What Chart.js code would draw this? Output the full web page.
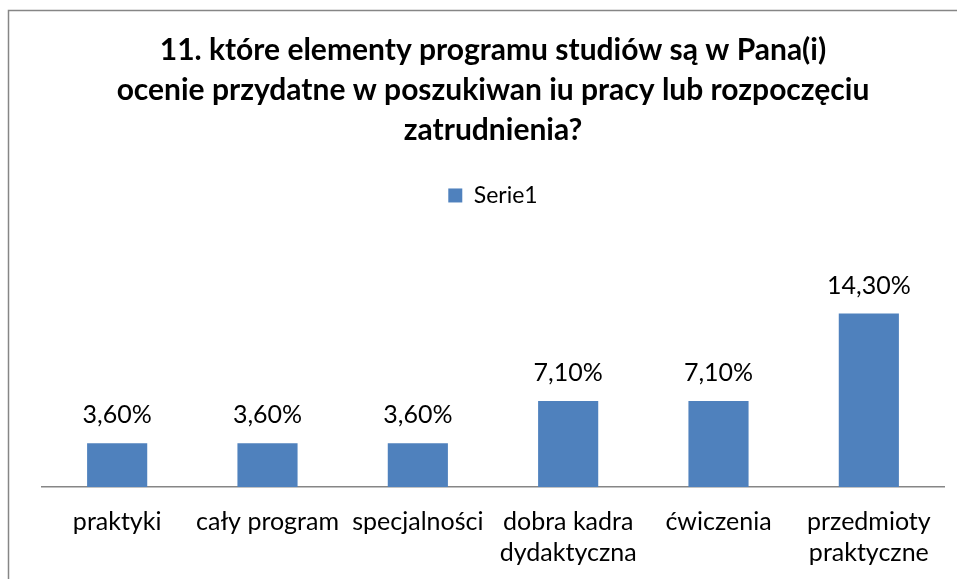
<!DOCTYPE html>
<html>
<head>
<meta charset="utf-8">
<script src="https://cdn.jsdelivr.net/npm/chart.js@4/dist/chart.umd.min.js"></script>
<style>
  html, body { margin: 0; padding: 0; background: #fff; }
  #wrap { width: 957px; height: 579px; position: relative; }
</style>
</head>
<body>
<div id="wrap"><canvas id="chart" width="957" height="579"></canvas></div>
<script>
// chart data
const titleLines = [
  '11. które elementy programu studiów są w Pana(i)',
  'ocenie przydatne w poszukiwan iu pracy lub rozpoczęciu',
  'zatrudnienia?'
];
const categories = [
  'praktyki',
  'cały program',
  'specjalności',
  ['dobra kadra', 'dydaktyczna'],
  'ćwiczenia',
  ['przedmioty', 'praktyczne']
];
const seriesName = 'Serie1';
const values = [3.6, 3.6, 3.6, 7.1, 7.1, 14.3];

const FONT = 'Lato, "Open Sans", sans-serif';

// value labels above bars, Polish decimal comma
const barLabels = {
  id: 'barLabels',
  afterDatasetsDraw(chart) {
    const ctx = chart.ctx;
    const meta = chart.getDatasetMeta(0);
    ctx.save();
    ctx.font = '25px ' + FONT;
    ctx.fillStyle = '#000';
    ctx.textAlign = 'center';
    ctx.textBaseline = 'middle';
    meta.data.forEach((bar, i) => {
      const txt = values[i].toFixed(2).replace('.', ',') + '%';
      ctx.fillText(txt, bar.x, bar.y - 28);
    });
    ctx.restore();
  }
};

// outer frame like the office chart border
const frame = {
  id: 'frame',
  afterDraw(chart) {
    const ctx = chart.ctx;
    ctx.save();
    ctx.strokeStyle = '#868686';
    ctx.lineWidth = 1.5;
    ctx.strokeRect(8.5, 10.5, 1200, 1000);
    ctx.restore();
  }
};

// leave room between legend and plot for the value labels
const legendGap = {
  id: 'legendGap',
  afterInit(chart) {
    const legend = chart.legend;
    const fit = legend.fit;
    legend.fit = function () {
      fit.call(this);
      this.height += 76;
    };
  }
};

new Chart(document.getElementById('chart'), {
  type: 'bar',
  data: {
    labels: categories,
    datasets: [{
      label: seriesName,
      data: values,
      backgroundColor: '#4F81BD',
      barPercentage: 0.4,
      categoryPercentage: 1.0
    }]
  },
  options: {
    responsive: false,
    animation: false,
    layout: { padding: { left: 42, right: 13, top: 0, bottom: 0 } },
    plugins: {
      title: {
        display: true,
        text: titleLines,
        color: '#000',
        font: { family: FONT, size: 30, weight: 'bold', lineHeight: 1.333 },
        padding: { top: 30, bottom: 26 }
      },
      legend: {
        display: true,
        labels: {
          color: '#000',
          font: { family: FONT, size: 23 },
          boxWidth: 14,
          boxHeight: 14,
          padding: 8
        }
      },
      tooltip: { enabled: false }
    },
    scales: {
      x: {
        grid: { display: false, drawTicks: false },
        border: { display: true, color: '#868686', width: 1.5 },
        ticks: {
          color: '#000',
          font: { family: FONT, size: 25, lineHeight: 1.24 },
          maxRotation: 0,
          autoSkip: false,
          padding: 19
        },
        afterFit(scale) {
          scale.height = 92;
        }
      },
      y: {
        display: false,
        min: 0,
        max: 16
      }
    }
  },
  plugins: [barLabels, frame, legendGap]
});
</script>
</body>
</html>
